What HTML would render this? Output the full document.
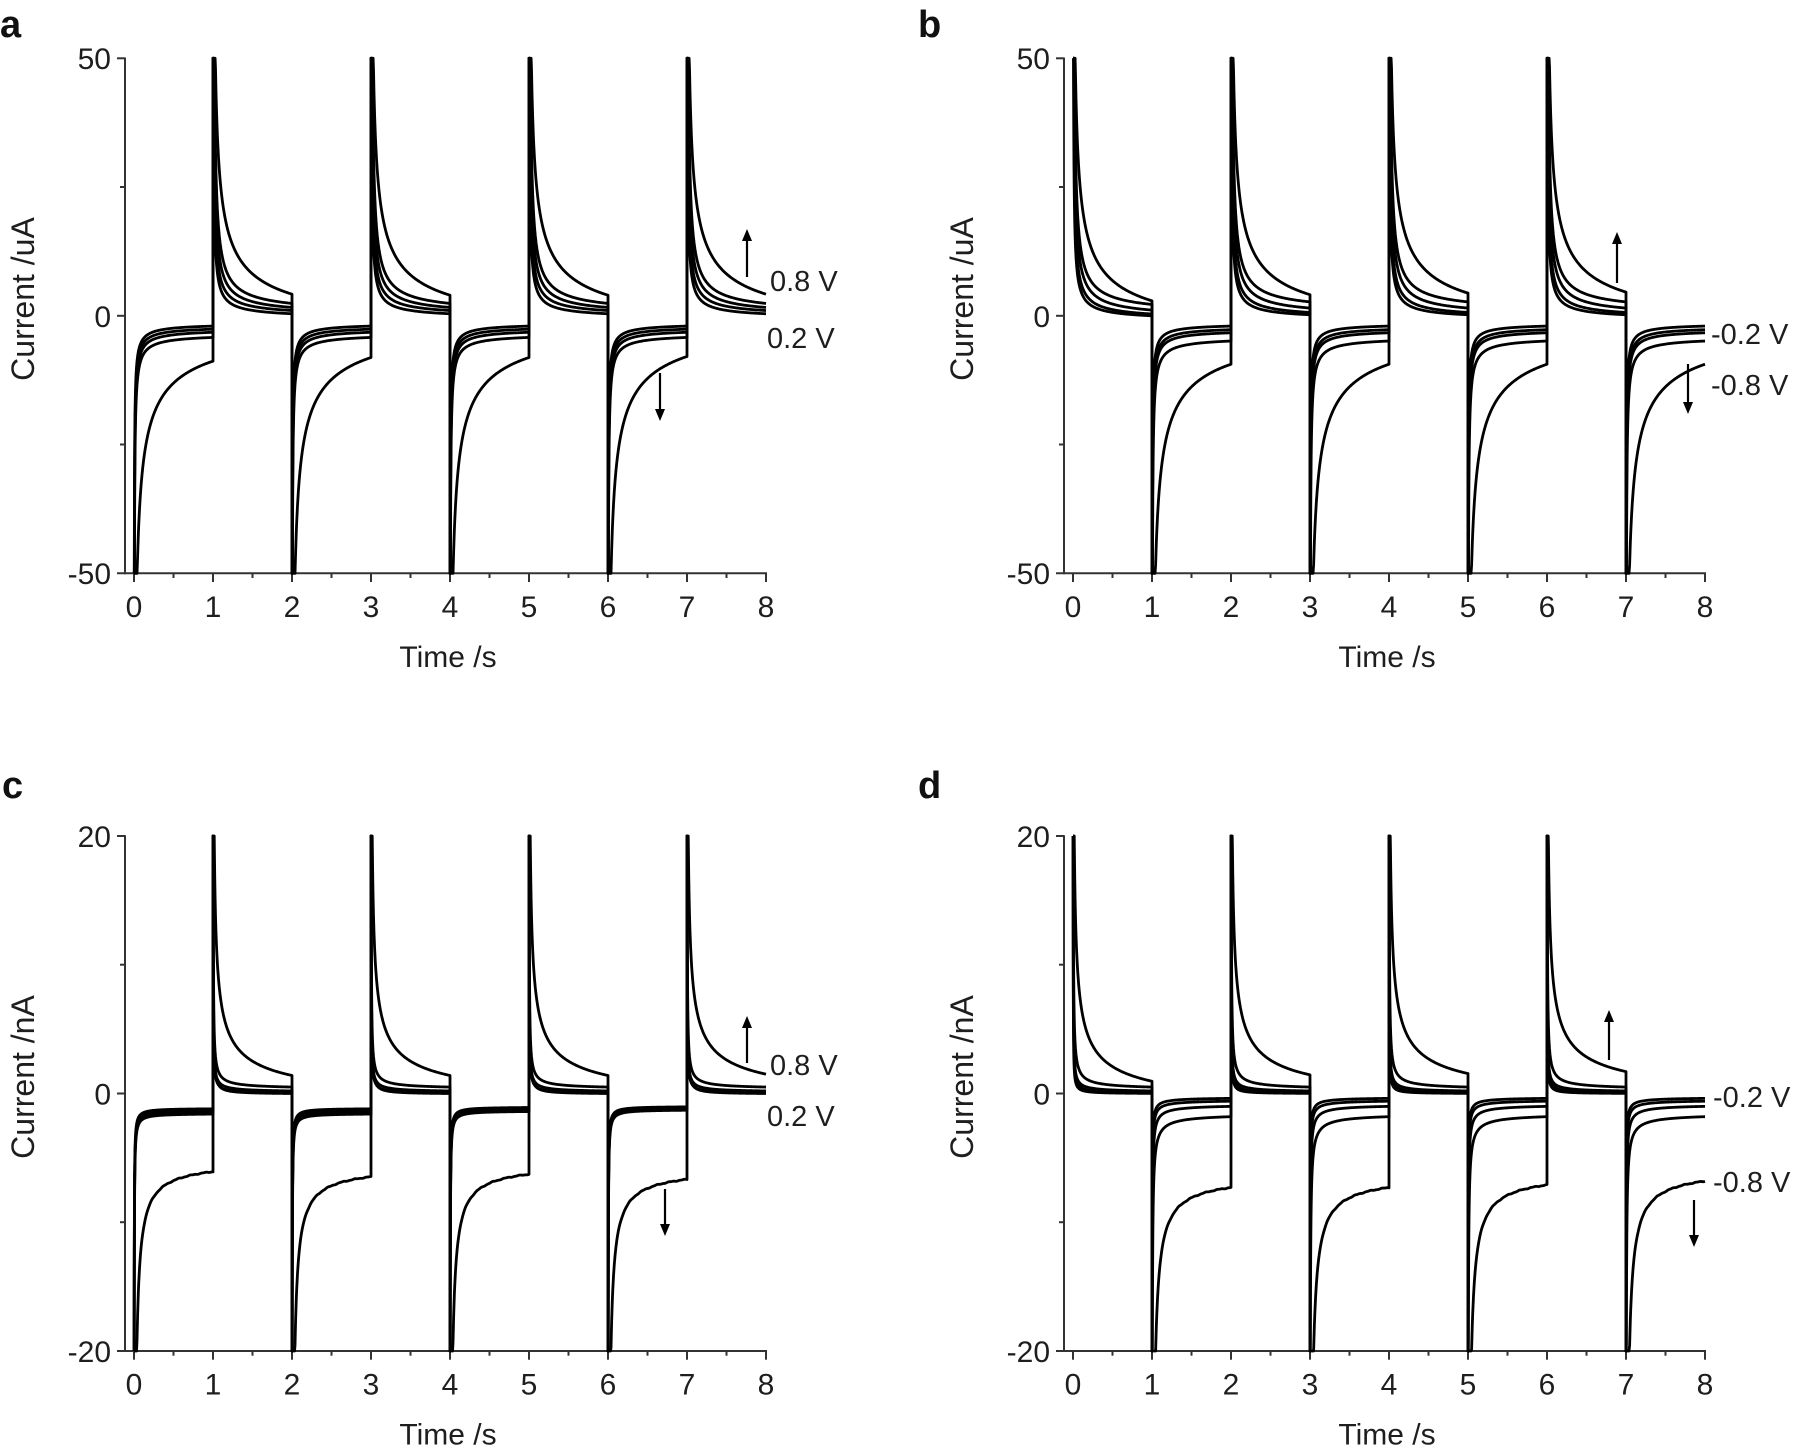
<!DOCTYPE html>
<html>
<head>
<meta charset="utf-8">
<style>
html,body{margin:0;padding:0;background:#fff;}
svg{display:block;}
text{font-family:"Liberation Sans",Arial,sans-serif;fill:#1e1e1e;}
.tk{font-size:30px;}
.lab{font-size:30px;}
.ylab{font-size:32px;}
.vl{font-size:29px;}
.pl{font-size:38px;font-weight:bold;fill:#111;}
#curves path{fill:none;stroke:#000;stroke-width:2.8;stroke-linejoin:round;stroke-linecap:butt;}
.ax line{stroke:#333;stroke-width:2;}
.arr{stroke:#000;stroke-width:2.2;}
</style>
</head>
<body>
<svg width="1800" height="1455" viewBox="0 0 1800 1455" xmlns="http://www.w3.org/2000/svg">
<rect width="1800" height="1455" fill="#fff"/>
<defs>
<g id="axes" class="ax">
  <line x1="125" y1="57.5" x2="125" y2="574.3"/>
  <line x1="117" y1="573.3" x2="767" y2="573.3"/>
  <line x1="117" y1="58.3" x2="125" y2="58.3"/>
  <line x1="117" y1="315.8" x2="125" y2="315.8"/>
  <line x1="120" y1="187" x2="125" y2="187"/>
  <line x1="120" y1="444.5" x2="125" y2="444.5"/>
  <line x1="134" y1="573" x2="134" y2="582"/>
  <line x1="213" y1="573" x2="213" y2="582"/>
  <line x1="292" y1="573" x2="292" y2="582"/>
  <line x1="371" y1="573" x2="371" y2="582"/>
  <line x1="450" y1="573" x2="450" y2="582"/>
  <line x1="529" y1="573" x2="529" y2="582"/>
  <line x1="608" y1="573" x2="608" y2="582"/>
  <line x1="687" y1="573" x2="687" y2="582"/>
  <line x1="766" y1="573" x2="766" y2="582"/>
  <line x1="173.5" y1="573" x2="173.5" y2="578"/>
  <line x1="252.5" y1="573" x2="252.5" y2="578"/>
  <line x1="331.5" y1="573" x2="331.5" y2="578"/>
  <line x1="410.5" y1="573" x2="410.5" y2="578"/>
  <line x1="489.5" y1="573" x2="489.5" y2="578"/>
  <line x1="568.5" y1="573" x2="568.5" y2="578"/>
  <line x1="647.5" y1="573" x2="647.5" y2="578"/>
  <line x1="726.5" y1="573" x2="726.5" y2="578"/>
</g>
<g id="xt" class="tk" text-anchor="middle">
  <text x="134" y="617">0</text>
  <text x="213" y="617">1</text>
  <text x="292" y="617">2</text>
  <text x="371" y="617">3</text>
  <text x="450" y="617">4</text>
  <text x="529" y="617">5</text>
  <text x="608" y="617">6</text>
  <text x="687" y="617">7</text>
  <text x="766" y="617">8</text>
  <text x="448" y="667" class="lab">Time /s</text>
</g>
</defs>

<use href="#axes" x="0" y="0"/>
<use href="#axes" x="939" y="0"/>
<use href="#axes" x="0" y="777.7"/>
<use href="#axes" x="939" y="777.7"/>

<use href="#xt" x="0" y="0"/>
<use href="#xt" x="939" y="0"/>
<use href="#xt" x="0" y="777.7"/>
<use href="#xt" x="939" y="777.7"/>

<text class="pl" x="0" y="37">a</text>
<text class="pl" x="918" y="37">b</text>
<text class="pl" x="2" y="798">c</text>
<text class="pl" x="918" y="798">d</text>

<g class="tk" text-anchor="end">
  <text x="111" y="69">50</text>
  <text x="111" y="327">0</text>
  <text x="111" y="584">-50</text>
  <text x="1050" y="69">50</text>
  <text x="1050" y="327">0</text>
  <text x="1050" y="584">-50</text>
  <text x="111" y="847">20</text>
  <text x="111" y="1104.5">0</text>
  <text x="111" y="1362">-20</text>
  <text x="1050" y="847">20</text>
  <text x="1050" y="1104.5">0</text>
  <text x="1050" y="1362">-20</text>
</g>

<g class="ylab" text-anchor="middle">
  <text transform="translate(34,299) rotate(-90)">Current /uA</text>
  <text transform="translate(973,299) rotate(-90)">Current /uA</text>
  <text transform="translate(34,1077) rotate(-90)">Current /nA</text>
  <text transform="translate(973,1077) rotate(-90)">Current /nA</text>
</g>

<g class="vl">
  <text x="770" y="291">0.8 V</text>
  <text x="767" y="348">0.2 V</text>
  <text x="1711" y="344">-0.2 V</text>
  <text x="1711" y="395">-0.8 V</text>
  <text x="770" y="1075">0.8 V</text>
  <text x="767" y="1126">0.2 V</text>
  <text x="1713" y="1107">-0.2 V</text>
  <text x="1713" y="1192">-0.8 V</text>
</g>

<g>
  <line class="arr" x1="747" y1="277" x2="747" y2="240"/>
  <polygon points="742,241 752,241 747,229" fill="#000"/>
  <line class="arr" x1="660" y1="373" x2="660" y2="410"/>
  <polygon points="655,409 665,409 660,421" fill="#000"/>

  <line class="arr" x1="1617" y1="283" x2="1617" y2="243"/>
  <polygon points="1612,244 1622,244 1617,232" fill="#000"/>
  <line class="arr" x1="1688" y1="364" x2="1688" y2="403"/>
  <polygon points="1683,402 1693,402 1688,414" fill="#000"/>

  <line class="arr" x1="747" y1="1063" x2="747" y2="1027"/>
  <polygon points="742,1028 752,1028 747,1016" fill="#000"/>
  <line class="arr" x1="665" y1="1189" x2="665" y2="1225"/>
  <polygon points="660,1224 670,1224 665,1236" fill="#000"/>

  <line class="arr" x1="1609" y1="1060" x2="1609" y2="1021"/>
  <polygon points="1604,1022 1614,1022 1609,1010" fill="#000"/>
  <line class="arr" x1="1694" y1="1200" x2="1694" y2="1236"/>
  <polygon points="1689,1235 1699,1235 1694,1247" fill="#000"/>
</g>

<g id="curves"></g>
</svg>

<script>
(function(){
var NS='http://www.w3.org/2000/svg';
var g=document.getElementById('curves');
var dts=[];
var d=0.0004; while(d<0.06){dts.push(d); d*=1.2;}
for(var i=6;i<=100;i++) dts.push(i/100);
function C(c,k,p,dc,noise){return {c:c,k:k,p:p,dc:dc||[0,0,0,0],noise:noise||0};}
function draw(P){
  var x0=134+P.dx, sx=79, y0=315.8+P.dy, sy=257.5/P.ymax;
  for(var ci=0;ci<P.pos.length;ci++){
    var s='';
    for(var cyc=0;cyc<8;cyc++){
      var isPos = P.posFirst ? (cyc%2===0) : (cyc%2===1);
      var prm=(isPos?P.pos:P.neg)[ci];
      var pair=Math.floor(cyc/2);
      for(var j=0;j<dts.length;j++){
        var dt=dts[j];
        var v=prm.c+prm.dc[pair]+prm.k*Math.pow(dt,-prm.p);
        if(prm.noise && dt>0.1) v+=prm.noise*(Math.sin(dt*37+cyc*1.7)+0.5*Math.sin(dt*91+cyc*2.3));
        v=Math.max(-P.ymax,Math.min(P.ymax,v));
        var x=x0+(cyc+dt)*sx, y=y0-v*sy;
        s+=(s?'L':'M')+x.toFixed(2)+' '+y.toFixed(2);
      }
    }
    var path=document.createElementNS(NS,'path');
    path.setAttribute('d',s);
    g.appendChild(path);
  }
}
// Panel a
draw({dx:0,dy:0,ymax:50,posFirst:false,
  pos:[C(-5.5,9.5,0.5,[0.2,0,0,0.2]),C(0.4,2.0,0.8),C(0.1,1.52,0.8),C(-0.1,1.12,0.8),C(-0.47,0.87,0.8)],
  neg:[C(1.7,-10.3,0.5,[-0.2,0.5,0.5,0.7]),C(-3.47,-0.73,0.8),C(-2.54,-0.66,0.8),C(-2.0,-0.6,0.8),C(-1.46,-0.54,0.8)]
});
// Panel b
draw({dx:939,dy:0,ymax:50,posFirst:true,
  pos:[C(-5.3,9.5,0.5,[-1.3,-0.1,0.2,0.4]),C(0.7,2.0,0.8,[-0.5,0,0,0]),C(-0.1,1.6,0.8,[-0.4,0,0,0]),C(-0.5,1.15,0.8,[-0.3,0,0,0]),C(-0.7,0.9,0.8,[-0.2,0,0,0])],
  neg:[C(1.2,-10.6,0.5),C(-4.1,-0.8,0.8),C(-2.65,-0.65,0.8),C(-2.1,-0.6,0.8),C(-1.5,-0.5,0.8)]
});
// Panel c
draw({dx:0,dy:777.7,ymax:20,posFirst:false,
  pos:[C(-1.28,2.68,0.5,[0,0,0,0.1]),C(0.34,0.16,0.8),C(0.1,0.1,0.8),C(0,0.06,0.9),C(-0.05,0.05,1)],
  neg:[C(-5.2,-0.87,0.85,[0,-0.4,-0.2,-0.6],0.025),C(-1.55,-0.05,1,[0,0,0.2,0.3]),C(-1.42,-0.045,1,[0,0,0.15,0.25]),C(-1.3,-0.045,1,[0,0,0.1,0.2]),C(-1.15,-0.04,1,[0,0,0.1,0.15])]
});
// Panel d
draw({dx:939,dy:777.7,ymax:20,posFirst:true,
  pos:[C(-1.3,2.75,0.5,[-0.5,0,0.1,0.25]),C(0.3,0.2,0.8),C(0.1,0.1,0.8),C(0,0.05,1),C(-0.02,0.03,1)],
  neg:[C(-6.3,-1.0,0.85,[0,0,0.2,0.5],0.025),C(-1.55,-0.25,0.8),C(-0.85,-0.15,0.8),C(-0.5,-0.1,0.8),C(-0.3,-0.08,0.8)]
});
})();
</script>
</body>
</html>
